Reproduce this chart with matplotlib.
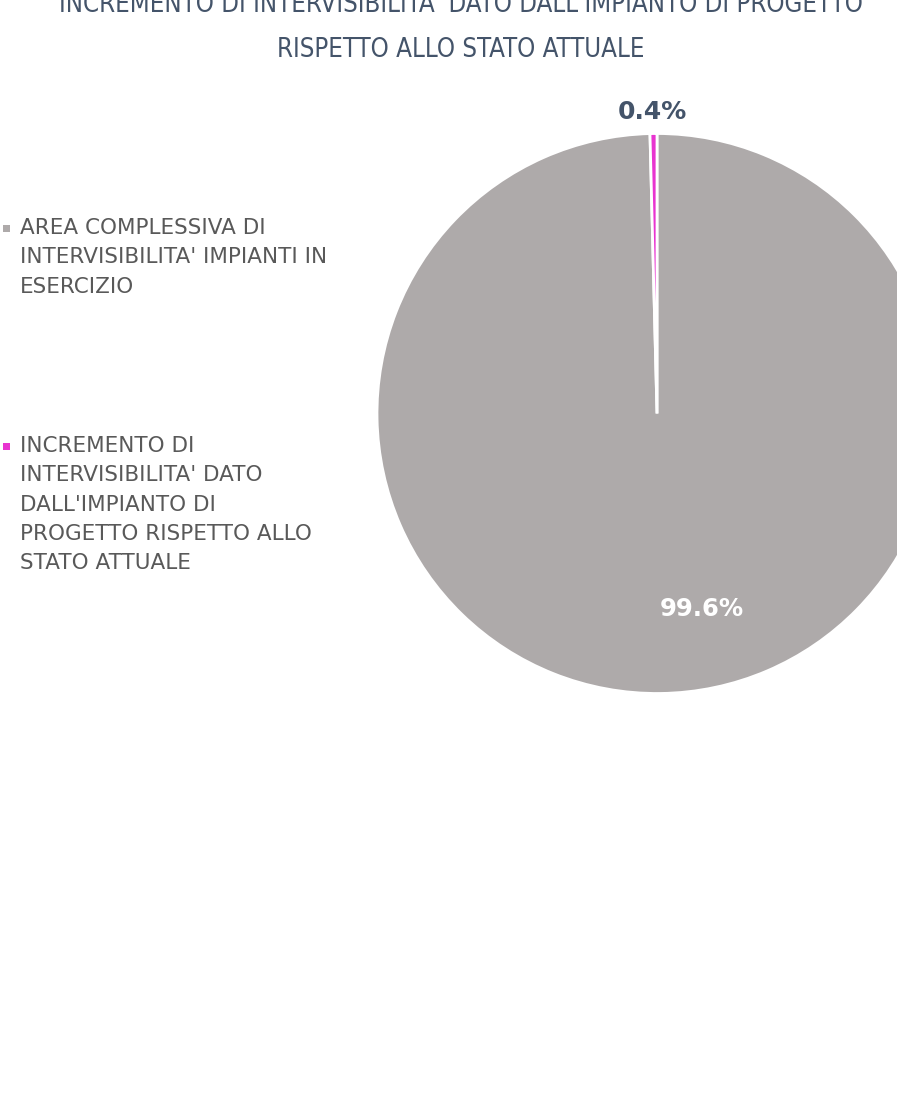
import matplotlib
matplotlib.use("Agg")
import matplotlib.pyplot as plt
from matplotlib.patches import Rectangle

# Data
categories = [
    "AREA COMPLESSIVA DI\nINTERVISIBILITA' IMPIANTI IN\nESERCIZIO",
    "INCREMENTO DI\nINTERVISIBILITA' DATO\nDALL'IMPIANTO DI\nPROGETTO RISPETTO ALLO\nSTATO ATTUALE",
]
values = [99.6, 0.4]
colors = ["#AEAAAA", "#E834D0"]
title_lines = ["INCREMENTO DI INTERVISIBILITA' DATO DALL'IMPIANTO DI PROGETTO",
               "RISPETTO ALLO STATO ATTUALE"]

W, H = 897, 1094
fig = plt.figure(figsize=(W / 100, H / 100), dpi=100)
fig.patch.set_facecolor("white")

# Pie axes
cx, cy, r = 657, 413.5, 280
ax = fig.add_axes([(cx - r) / W, 1 - (cy + r) / H, 2 * r / W, 2 * r / H])
wedges, _ = ax.pie(values, colors=colors, startangle=90, counterclock=False,
                   wedgeprops=dict(edgecolor="white", linewidth=2.0))
ax.set_xlim(-1, 1)
ax.set_ylim(-1, 1)
ax.set_aspect("equal")
ax.axis("off")

# Data labels
ax.text(0.16, -0.70, f"{values[0]:.1f}%", ha="center", va="center",
        color="white", fontsize=17.5, fontweight="bold", family="DejaVu Sans")
ax.text(-0.018, 1.078, f"{values[1]:.1f}%", ha="center", va="center",
        color="#44546A", fontsize=18, fontweight="bold", family="DejaVu Sans",
        clip_on=False)

# Title (top line cut at the edge as in the reference)
for txt, yb in zip(title_lines, [12, 57]):
    fig.text(461 / W, 1 - yb / H, txt, ha="center", va="baseline",
             color="#44546A", fontsize=18.5, family="DejaVu Sans",
             fontstretch="condensed")

# Legend (manual)
leg_top = [228, 446]
line_h = 29.3
for lab, col, yt in zip(categories, colors, leg_top):
    for i, ln in enumerate(lab.split("\n")):
        fig.text(20 / W, 1 - (yt + i * line_h) / H, ln, ha="left", va="center",
                 color="#595959", fontsize=15.5, family="DejaVu Sans")
    fig.patches.append(Rectangle((3 / W, 1 - (yt + 4) / H), 7 / W, 7 / H,
                                 transform=fig.transFigure, facecolor=col,
                                 edgecolor="none"))

fig.savefig("out.png", dpi=100, facecolor="white")
